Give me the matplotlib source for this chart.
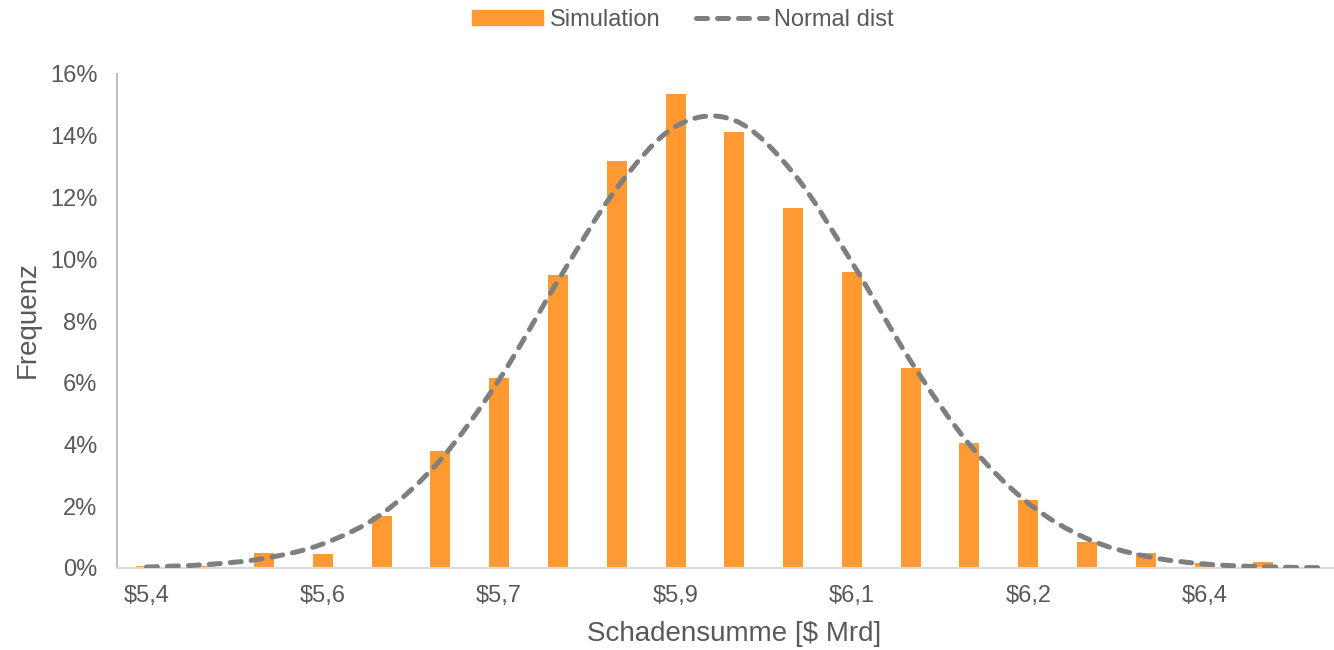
import numpy as np
import matplotlib.pyplot as plt
from matplotlib.ticker import FuncFormatter
from matplotlib.path import Path
from matplotlib.patches import PathPatch, Patch
from matplotlib.lines import Line2D

plt.rcParams['font.family'] = ['Liberation Sans', 'DejaVu Sans']

# bin centres of the simulated loss totals, $ bn
bins = [5.40, 5.45, 5.51, 5.56, 5.62, 5.67, 5.73, 5.78, 5.84, 5.89, 5.95,
        6.00, 6.06, 6.11, 6.17, 6.22, 6.28, 6.33, 6.39, 6.44, 6.50]
# share of simulation runs per bin, % (last bin empty)
sim = [0.05, 0.08, 0.50, 0.44, 1.70, 3.80, 6.15, 9.49, 13.18, 15.34, 14.12,
       11.67, 9.60, 6.48, 4.06, 2.20, 0.85, 0.50, 0.15, 0.20, 0.0]
# fitted normal density per bin, %
normal = [0.03, 0.11, 0.31, 0.78, 1.75, 3.50, 6.10, 9.30, 12.30, 14.30, 14.50,
          12.80, 9.90, 6.70, 4.00, 2.10, 0.95, 0.38, 0.13, 0.04, 0.01]

grey_txt = '#595959'
orange = '#FF9A33'
line_grey = '#7F7F7F'
lw = 3.6
dash = (2.2, 2.0)


def smooth_path(xs, ys):
    # catmull-rom through the points, written as cubic bezier segments
    p = np.column_stack([xs, ys]).astype(float)
    ext = np.vstack([p[0], p, p[-1]])
    verts = [p[0]]
    codes = [Path.MOVETO]
    for i in range(len(p) - 1):
        a, b, c, d = ext[i], ext[i + 1], ext[i + 2], ext[i + 3]
        verts += [b + (c - a) / 6, c - (d - b) / 6, c]
        codes += [Path.CURVE4] * 3
    return Path(verts, codes)


fig = plt.figure(figsize=(13.34, 6.5), dpi=100)
ax = fig.add_axes([117 / 1334, 82 / 650, 1 - 117 / 1334, 494 / 650])

x = np.arange(len(bins))
ax.bar(x, sim, width=0.34, color=orange, zorder=2)
ax.add_patch(PathPatch(smooth_path(x, normal), fill=False, edgecolor=line_grey,
                       lw=lw, linestyle=(0, dash), capstyle='round', zorder=3))

ax.set_xlim(-0.5, 20.2)
ax.set_ylim(0, 16)
ax.set_yticks(np.arange(0, 17, 2))
ax.yaxis.set_major_formatter(FuncFormatter(lambda v, p: f'{v:.0f}%'))
ax.set_xticks(x[::3])
ax.set_xticklabels(['$' + f'{b:.1f}'.replace('.', ',') for b in bins[::3]])

for s in ['top', 'right']:
    ax.spines[s].set_visible(False)
ax.spines['left'].set_color('#BFBFBF')
ax.spines['left'].set_linewidth(1.5)
ax.spines['bottom'].set_color('#D9D9D9')
ax.spines['bottom'].set_linewidth(1.5)
ax.tick_params(axis='both', length=0, labelsize=17, labelcolor=grey_txt)
ax.tick_params(axis='y', pad=14)
ax.tick_params(axis='x', pad=12)

fig.text(28 / 1334, 1 - 320 / 650, 'Frequenz', rotation=90, ha='center',
         va='center', fontsize=20, color=grey_txt)
fig.text(734 / 1334, 1 - 634 / 650, 'Schadensumme [$ Mrd]', ha='center',
         va='center', fontsize=20, color=grey_txt)

handles = [Patch(color=orange),
           Line2D([], [], color=line_grey, lw=lw, linestyle=(0, dash),
                  dash_capstyle='round')]
fig.legend(handles, ['Simulation', 'Normal dist'], loc='center',
           bbox_to_anchor=(683 / 1334, 1 - 20 / 650), ncol=2,
           frameon=False, fontsize=17, labelcolor=grey_txt,
           handlelength=3.0, handleheight=0.6, handletextpad=0.3,
           columnspacing=1.5)

fig.savefig('out.png', dpi=100)
